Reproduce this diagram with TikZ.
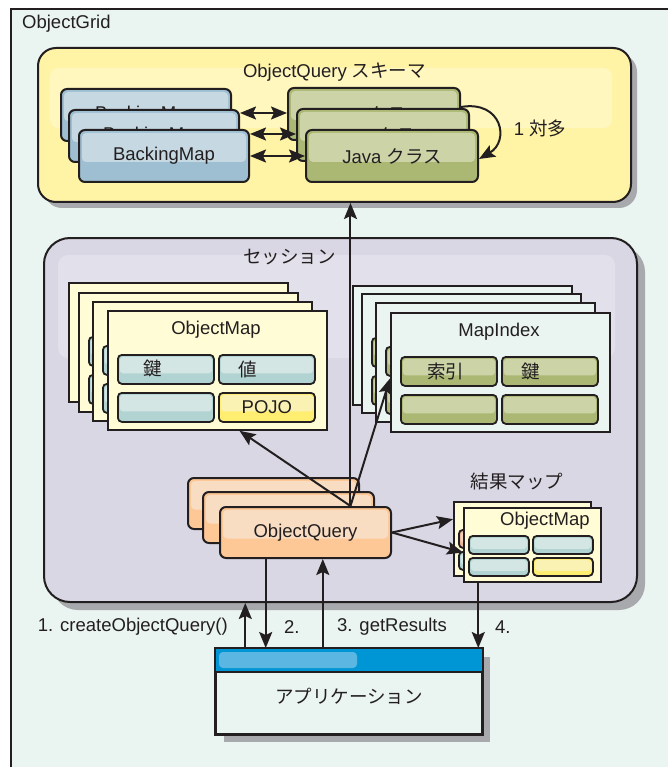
\documentclass[tikz,border=0pt]{standalone}
\usepackage{fontspec}
\setmainfont{Liberation Sans}
\newfontfamily\jp{Noto Sans CJK JP}
\usetikzlibrary{arrows.meta,calc,shadows}

\definecolor{gridbg}{HTML}{EAF4F1}
\definecolor{ink}{HTML}{231F20}
\definecolor{shade}{HTML}{A7A9AC}
\definecolor{schemafill}{HTML}{FFF3A6}
\definecolor{schemaband}{HTML}{FFF7BE}
\definecolor{sessfill}{HTML}{DAD7E4}
\definecolor{sessband}{HTML}{E2E0EA}
\definecolor{bmdark}{HTML}{9EBFD1}
\definecolor{bmlight}{HTML}{C6D8E1}
\definecolor{jdark}{HTML}{AAB873}
\definecolor{jlight}{HTML}{CBD3A7}
\definecolor{sheetfill}{HTML}{FFFCD6}
\definecolor{tdark}{HTML}{B1D4D2}
\definecolor{tlight}{HTML}{D3E6E4}
\definecolor{ydark}{HTML}{FFEE70}
\definecolor{ylight}{HTML}{FAF2B2}
\definecolor{qdark}{HTML}{FDC796}
\definecolor{qlight}{HTML}{F9DDC3}
\definecolor{pdark}{HTML}{E9B79A}
\definecolor{plight}{HTML}{F3D3C0}
\definecolor{appblue}{HTML}{0096D6}
\definecolor{applight}{HTML}{5CB6E2}

% one sheet of a stacked map: name, x, y, sheet fill, cell style, last cell style, title
\newcommand\mapsheet[7]{%
  \node[sheet=#4] (#1) at (#2,#3) {};
  \node[#5] (#1a) at ($(#1.north west)+(10,44)$) {};
  \node[#5] (#1b) at ($(#1.north west)+(111,44)$) {};
  \node[#5] (#1c) at ($(#1.north west)+(10,82)$) {};
  \node[#6] (#1d) at ($(#1.north west)+(111,82)$) {};
  \node (#1t) at ($(#1.north west)+(109,20)$) {#7};
}

\begin{document}
\begin{tikzpicture}[x=1pt,y=-1pt,
  every node/.style={text=ink, font=\fontsize{18.5}{22}\selectfont, inner sep=0pt},
  box/.style 2 args={draw=ink, line width=2pt, rounded corners=6pt, fill=#1, anchor=north west,
    path picture={\fill[#2, rounded corners=4pt]
      ([shift={(3pt,-3pt)}]path picture bounding box.north west) rectangle
      ([shift={(-3pt,-6pt)}]path picture bounding box.east);}},
  bmbox/.style={box={bmdark}{bmlight}, minimum width=170, minimum height=52},
  jbox/.style={box={jdark}{jlight}, minimum width=172, minimum height=52},
  qbox/.style={box={qdark}{qlight}, minimum width=171, minimum height=51},
  cellbase/.style n args={4}{draw=ink, line width=1.8pt, rounded corners=4pt, fill=#1,
    anchor=north west, minimum width=#3, minimum height=#4,
    path picture={\fill[#2, rounded corners=3pt]
      ([shift={(2pt,-2pt)}]path picture bounding box.north west) rectangle
      ([shift={(-2pt,-4pt)}]path picture bounding box.east);}},
  tealcell/.style={cellbase={tdark}{tlight}{96}{29}},
  olivecell/.style={cellbase={jdark}{jlight}{96}{29}},
  yellowcell/.style={cellbase={ydark}{ylight}{96}{29}},
  smalltealcell/.style={cellbase={tdark}{tlight}{60}{18}},
  smallyellowcell/.style={cellbase={ydark}{ylight}{60}{18}},
  smallpeachcell/.style={cellbase={pdark}{plight}{60}{18}},
  sheet/.style={draw=ink, line width=1.8pt, fill=#1, anchor=north west,
    minimum width=219, minimum height=119},
  smallsheet/.style={draw=ink, line width=1.8pt, fill=sheetfill, anchor=north west,
    minimum width=137, minimum height=74},
  frame/.style n args={3}{draw=ink, line width=2pt, rounded corners=#2, fill=#1,
    anchor=north west, drop shadow={shadow xshift=#3, shadow yshift=-#3, fill=shade, opacity=1}},
  >={Stealth[length=16pt,width=13pt,inset=3pt]},
  arr/.style={->, line width=2pt, draw=ink},
  dbl/.style={<->, line width=2pt, draw=ink},
]
\useasboundingbox (0,0) rectangle (668,767);
\clip (0,0) rectangle (668,767);
\fill[white] (0,0) rectangle (668,767);

% ObjectGrid frame
\fill[gridbg] (11,9) rectangle (690,790);
\draw[ink, line width=2pt] (11,790) -- (11,9) -- (690,9);
\node[anchor=west] (gridtitle) at (22,24) {ObjectGrid};

% ObjectQuery schema
\node[frame={schemafill}{18pt}{6pt}, minimum width=593, minimum height=154] (schema) at (37,47) {};
\fill[schemaband, rounded corners=8pt] ($(schema.north west)+(13,21)$) rectangle ($(schema.north east)+(-20,81)$);
\node (schematitle) at ($(schema.north)+(0,25)$) {ObjectQuery {\jp スキーマ}};

\node[bmbox] (bm1) at (60,88) {BackingMap};
\node[bmbox] (bm2) at (68,109) {BackingMap};
\node[bmbox] (bm3) at (78,129) {BackingMap};
\node[jbox] (jc1) at (287,87) {Java {\jp クラス}};
\node[jbox] (jc2) at (296,108) {Java {\jp クラス}};
\node[jbox] (jc3) at (305,129) {Java {\jp クラス}};

\path ([yshift=-4pt]bm2.north east) coordinate (d1)
      ([yshift=-5pt]bm3.north east) coordinate (d2)
      (bm3.east) coordinate (d3);
\draw[dbl] (d1) -- (d1 -| jc1.west);
\draw[dbl] (d2) -- (d2 -| jc2.west);
\draw[dbl] (d3) -- (d3 -| jc3.west);
\draw[arr] ([yshift=-20pt]jc1.north east) .. controls +(41,-7) and +(31,-18) .. ([yshift=-3pt]jc3.east);
\node (many) at (540,128) {1 {\jp 対多}};

% session
\node[frame={sessfill}{26pt}{8pt}, minimum width=593, minimum height=364] (session) at (43,237) {};
\fill[sessband, rounded corners=10pt] ($(session.north west)+(15,18)$) rectangle ($(session.north east)+(-23,121)$);
\node[anchor=east] (sesstitle) at ($(session.north west)+(293,20)$) {\jp セッション};

% ObjectMap stack
\mapsheet{om1}{68}{282}{sheetfill}{tealcell}{tealcell}{}
\mapsheet{om2}{78}{292}{sheetfill}{tealcell}{tealcell}{}
\mapsheet{om3}{92}{301}{sheetfill}{tealcell}{tealcell}{}
\mapsheet{om4}{107}{310}{sheetfill}{tealcell}{yellowcell}{ObjectMap}
\node (omkey) at ($(om4a.center)+(-13,-1)$) {\jp 鍵};
\node (omval) at ($(om4b.center)+(-19,0)$) {\jp 値};
\node (ompojo) at (om4d.center) {POJO};

% MapIndex stack
\mapsheet{mi1}{352}{285}{gridbg}{olivecell}{olivecell}{}
\mapsheet{mi2}{361}{293}{gridbg}{olivecell}{olivecell}{}
\mapsheet{mi3}{375}{302}{gridbg}{olivecell}{olivecell}{}
\mapsheet{mi4}{390}{312}{gridbg}{olivecell}{olivecell}{MapIndex}
\node (miidx) at ($(mi4a.center)+(-3,0)$) {\jp 索引};
\node (mikey) at ($(mi4b.center)+(-19,0)$) {\jp 鍵};

% ObjectQuery stack
\node[qbox] (oq1) at (187,477) {};
\node[qbox] (oq2) at (202,491) {};
\node[qbox] (oq3) at (219,506) {ObjectQuery};

% result map
\node (rmtitle) at (517,481) {\jp 結果マップ};
\node[smallsheet] (rm1) at (453,501) {};
\node[smallpeachcell] (rm1a) at ($(rm1.north west)+(5,28)$) {};
\node[smalltealcell] (rm1c) at ($(rm1.north west)+(5,50)$) {};
\node[smallsheet] (rm2) at (463,507) {};
\node[smalltealcell] (rm2a) at ($(rm2.north west)+(5,28)$) {};
\node[smalltealcell] (rm2b) at ($(rm2.north west)+(69,28)$) {};
\node[smalltealcell] (rm2c) at ($(rm2.north west)+(5,50)$) {};
\node[smallyellowcell] (rm2d) at ($(rm2.north west)+(69,50)$) {};
\node[anchor=east] (rm2t) at ($(rm2.north east)+(-12,14)$) {ObjectMap};

% application
\node[draw=ink, line width=2pt, fill=gridbg, anchor=north west, minimum width=266, minimum height=85,
  drop shadow={shadow xshift=8pt, shadow yshift=-8pt, fill=shade, opacity=1}] (app) at (215,648) {};
\fill[appblue] (app.north west) rectangle ($(app.north east)+(0,24)$);
\fill[applight, rounded corners=4pt] ($(app.north west)+(4,4)$) rectangle ($(app.north west)+(142,20)$);
\draw[ink, line width=2pt] ($(app.north west)+(0,24)$) -- ($(app.north east)+(0,24)$);
\draw[ink, line width=2pt] (app.north west) rectangle (app.south east);
\node (apptext) at ($(app.center)+(0,5)$) {\jp アプリケーション};

% query connectors
\coordinate (hub) at ($(oq3.north west)!0.76!(oq3.north east)$);
\draw[arr] (hub) -- (hub |- schema.south);
\draw[arr] (hub) -- ($(om4.south west)!0.6!(om4.south east)$);
\draw[arr] (hub) -- ($(mi4.north west)!0.55!(mi4.south west)$);
\draw[arr] (oq3.east) -- ($(rm1.north west)!0.24!(rm1.south west)$);
\draw[arr] (oq3.east) -- ($(rm2.north west)!0.6!(rm2.south west)$);

% application calls
\coordinate (a1) at ($(app.north west)!0.113!(app.north east)$);
\coordinate (q2) at ($(oq3.south west)!0.27!(oq3.south east)$);
\coordinate (q3) at ($(oq3.south west)!0.6!(oq3.south east)$);
\coordinate (r4) at ($(rm2.south west)!0.11!(rm2.south east)$);
\draw[arr] (a1) -- (a1 |- session.south);
\draw[arr] (q2) -- (q2 |- app.north);
\draw[arr] (q3 |- app.north) -- (q3);
\draw[arr] (r4) -- (r4 |- app.north);
\node[anchor=east] (step1) at (228,627) {1. createObjectQuery()};
\node[anchor=west] (step2) at (284,627) {2.};
\node[anchor=west] (step3) at (337,627) {3. getResults};
\node[anchor=west] (step4) at (495,627) {4.};
\end{tikzpicture}
\end{document}
